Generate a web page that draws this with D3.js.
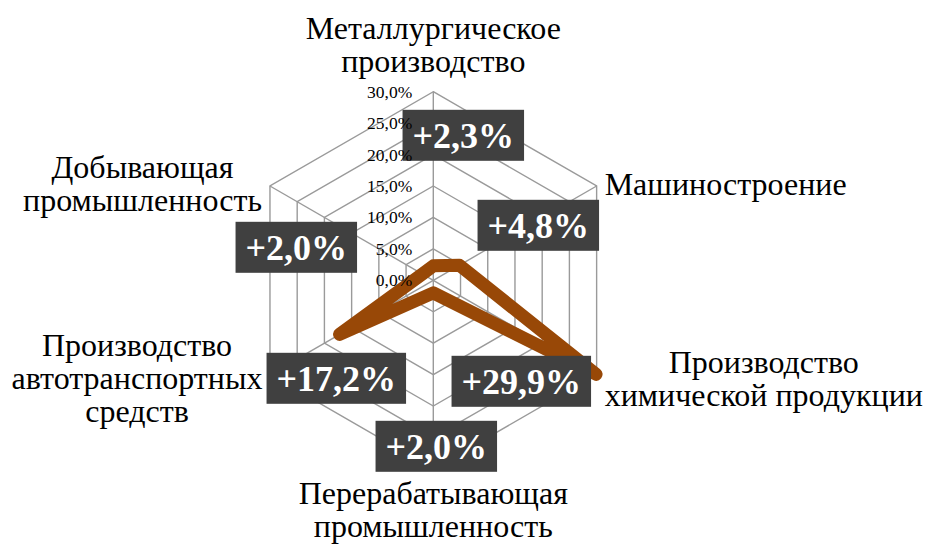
<!DOCTYPE html>
<html>
<head>
<meta charset="utf-8">
<script src="https://cdn.jsdelivr.net/npm/d3@7"></script>
<style>
  body { margin: 0; background: #fff; }
  svg { display: block; }
</style>
</head>
<body>
<div id="chart-area"></div>
<script>
// categories, clockwise from the top
const categories = [
  ["Металлургическое", "производство"],
  ["Машиностроение"],
  ["Производство", "химической продукции"],
  ["Перерабатывающая", "промышленность"],
  ["Производство", "автотранспортных", "средств"],
  ["Добывающая", "промышленность"]
];
// growth, share
const growth = [0.023, 0.048, 0.299, 0.020, 0.172, 0.020];
const tickValues = [0, 0.05, 0.10, 0.15, 0.20, 0.25, 0.30];

// where the data labels were dragged to (offset from chart centre, px)
const labelOffsets = [[30, -145], [105, -55], [88, 101], [3, 166], [-97, 98], [-137, -33]];

const ru = d3.formatLocale({ decimal: ",", thousands: " ", grouping: [3], currency: ["", " ₽"] });
const tickFormat = ru.format(".1%");
const labelFormat = ru.format("+.1%");

const SERIF = "Liberation Serif";

class RadarChart {
  constructor(_parentElement) {
    this.parentElement = _parentElement;
    this.initVis();
  }

  initVis() {
    const vis = this;

    vis.WIDTH = 926;
    vis.HEIGHT = 547;
    vis.CX = 433.3;
    vis.CY = 280.3;
    vis.RADIUS = 188.6;

    vis.svg = d3.select(vis.parentElement)
      .append("svg")
      .attr("width", vis.WIDTH)
      .attr("height", vis.HEIGHT);

    vis.g = vis.svg.append("g")
      .attr("transform", `translate(${vis.CX}, ${vis.CY})`);

    vis.r = d3.scaleLinear()
      .domain([0, d3.max(tickValues)])
      .range([0, vis.RADIUS]);

    vis.angle = d3.scalePoint()
      .domain(d3.range(categories.length + 1))
      .range([0, 2 * Math.PI]);

    vis.gridG = vis.g.append("g").attr("class", "grid");
    vis.lineG = vis.g.append("g").attr("class", "series");
    vis.labelG = vis.g.append("g").attr("class", "data-labels");
    vis.tickG = vis.g.append("g").attr("class", "ticks");
    vis.catG = vis.g.append("g").attr("class", "categories");

    vis.wrangleData();
  }

  wrangleData() {
    const vis = this;
    vis.data = categories.map((c, i) => ({
      name: c,
      value: growth[i],
      offset: labelOffsets[i],
      angle: vis.angle(i)
    }));
    vis.updateVis();
  }

  point(a, r) {
    return [Math.sin(a) * r, -Math.cos(a) * r];
  }

  updateVis() {
    const vis = this;

    // web rings
    const ring = d3.lineRadial()
      .curve(d3.curveLinearClosed)
      .angle((d) => d.angle);

    vis.gridG.selectAll(".ring")
      .data(tickValues.filter((t) => t > 0))
      .enter()
      .append("path")
      .attr("class", "ring")
      .attr("d", (t) => ring.radius(vis.r(t))(vis.data))
      .attr("fill", "none")
      .attr("stroke", "#9a9a9a")
      .attr("stroke-width", 1.4);

    vis.gridG.selectAll(".spoke")
      .data(vis.data)
      .enter()
      .append("line")
      .attr("class", "spoke")
      .attr("x2", (d) => vis.point(d.angle, vis.RADIUS)[0])
      .attr("y2", (d) => vis.point(d.angle, vis.RADIUS)[1])
      .attr("stroke", "#9a9a9a")
      .attr("stroke-width", 1.4);

    // series
    const line = d3.lineRadial()
      .curve(d3.curveLinearClosed)
      .angle((d) => d.angle)
      .radius((d) => vis.r(d.value));

    vis.lineG.append("path")
      .datum(vis.data)
      .attr("d", line)
      .attr("fill", "none")
      .attr("stroke", "#984807")
      .attr("stroke-width", 13)
      .attr("stroke-linejoin", "round")
      .attr("stroke-linecap", "round");

    // value labels in dark boxes
    const labels = vis.labelG.selectAll(".data-label")
      .data(vis.data)
      .enter()
      .append("g")
      .attr("class", "data-label")
      .attr("transform", (d) => `translate(${d.offset[0]}, ${d.offset[1]})`);

    labels.append("rect").attr("fill", "#404040");

    labels.append("text")
      .attr("text-anchor", "middle")
      .attr("y", 12.5)
      .attr("fill", "#fff")
      .attr("font-family", SERIF)
      .attr("font-weight", "bold")
      .attr("font-size", 36)
      .text((d) => labelFormat(d.value));

    labels.each(function () {
      const w = d3.select(this).select("text").node().getComputedTextLength() + 20;
      d3.select(this).select("rect")
        .attr("x", -w / 2)
        .attr("y", -25.5)
        .attr("width", w)
        .attr("height", 51);
    });

    // axis ticks along the top spoke
    vis.tickG.selectAll("text")
      .data(tickValues)
      .enter()
      .append("text")
      .attr("x", -21)
      .attr("y", (t) => -vis.r(t) + 6)
      .attr("text-anchor", "end")
      .attr("font-family", SERIF)
      .attr("font-size", 17.5)
      .attr("fill", "#000")
      .text(tickFormat);

    // category names
    const LINE_H = 33;
    const cats = vis.catG.selectAll(".cat")
      .data(vis.data)
      .enter()
      .append("text")
      .attr("class", "cat")
      .attr("text-anchor", "middle")
      .attr("font-family", SERIF)
      .attr("font-size", 32)
      .attr("fill", "#000");

    cats.each(function (d) {
      const t = d3.select(this);
      d.name.forEach((s) => t.append("tspan").text(s));
      const w = d3.max(t.selectAll("tspan").nodes(), (n) => n.getComputedTextLength());
      const [vx, vy] = vis.point(d.angle, vis.RADIUS);
      const blockH = d.name.length * LINE_H;
      let cx;
      let top;
      if (Math.abs(vx) < 1) {
        cx = 0;
        top = vy < 0 ? vy - 12 - blockH : vy + 10;
      } else {
        cx = vx > 0 ? vx + 8 + w / 2 : vx - 8 - w / 2;
        top = vy - blockH / 2 + (vy > 0 ? 6 : 0);
      }
      t.selectAll("tspan")
        .attr("x", cx)
        .attr("y", (s, i) => top + (i + 1) * LINE_H - 8);
    });
  }
}

new RadarChart("#chart-area");
</script>
</body>
</html>
